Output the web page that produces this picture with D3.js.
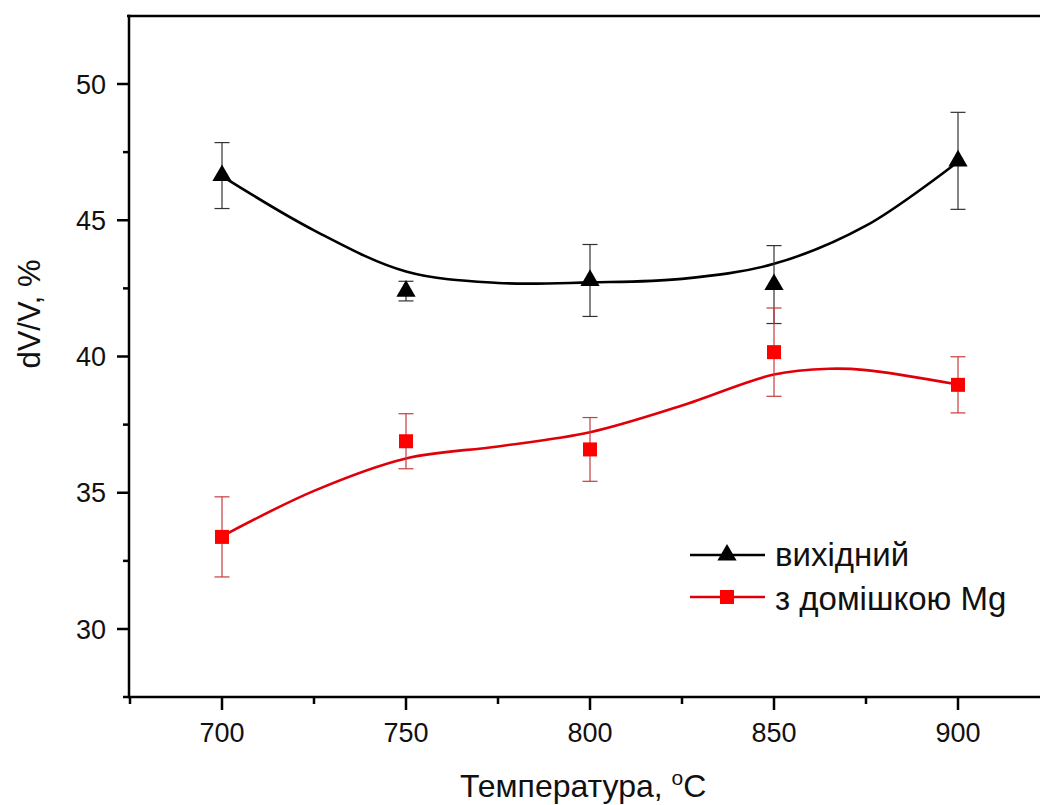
<!DOCTYPE html>
<html><head><meta charset="utf-8">
<script src="https://cdn.jsdelivr.net/npm/d3@7"></script>
<style>body{margin:0;background:#fff}svg{display:block}text{font-family:"Liberation Sans",Arial,sans-serif}</style>
</head><body>
<script>
const temps = [700, 750, 800, 850, 900];
const baseVals = [46.64, 42.40, 42.79, 42.64, 47.18];
const baseErr = [1.21, 0.36, 1.32, 1.43, 1.78];
const mgVals = [33.38, 36.89, 36.59, 40.16, 38.96];
const mgErr = [1.47, 1.01, 1.17, 1.62, 1.03];
// smooth fit curves
const fitX = [700, 725, 750, 775, 800, 825, 850, 875, 900];
const baseFit = [46.62, 44.63, 43.12, 42.70, 42.72, 42.85, 43.40, 44.80, 47.15];
const mgFitX = [700, 725, 750, 775, 800, 825, 850, 865, 875, 900];
const mgFit = [33.40, 35.07, 36.26, 36.70, 37.22, 38.20, 39.34, 39.55, 39.50, 38.97];
const xMajor = [700, 750, 800, 850, 900];
const xMinor = [675, 725, 775, 825, 875];
const yMajor = [30, 35, 40, 45, 50];
const yMinor = [32.5, 37.5, 42.5, 47.5];
const legendLabels = ["вихідний", "з домішкою Mg"];

(function () {
const W = 1040, H = 805;
const svg = d3.select("body").append("svg").attr("width", W).attr("height", H);
const axL = 129, axB = 697, axT = 16;
const x = d3.scaleLinear().domain([700, 900]).range([222, 958]);
const y = d3.scaleLinear().domain([30, 50]).range([629, 84]);

svg.append("line").attr("x1", axL - 2).attr("x2", W).attr("y1", axT).attr("y2", axT)
  .attr("stroke", "#000").attr("stroke-width", 2.5);

const gy = svg.append("g").attr("transform", `translate(${axL},0)`);
gy.append("line").attr("y1", axT - 1.2).attr("y2", axB + 1.2).attr("stroke", "#000").attr("stroke-width", 2.5);
gy.selectAll(".ymaj").data(yMajor).join("line").attr("x1", 0).attr("x2", -12)
  .attr("y1", d => y(d)).attr("y2", d => y(d)).attr("stroke", "#000").attr("stroke-width", 2.5);
gy.selectAll(".ymin").data(yMinor).join("line").attr("x1", 0).attr("x2", -6)
  .attr("y1", d => y(d)).attr("y2", d => y(d)).attr("stroke", "#000").attr("stroke-width", 2.5);
gy.selectAll(".ylab").data(yMajor).join("text").attr("x", -23).attr("y", d => y(d))
  .attr("dy", "0.36em").attr("text-anchor", "end").attr("font-size", 27).attr("fill", "#111").text(d => d);

const gx = svg.append("g").attr("transform", `translate(0,${axB})`);
gx.append("line").attr("x1", axL - 6).attr("x2", W).attr("stroke", "#000").attr("stroke-width", 2.5);
gx.selectAll(".xmaj").data(xMajor).join("line").attr("x1", d => x(d)).attr("x2", d => x(d))
  .attr("y1", 0).attr("y2", 13).attr("stroke", "#000").attr("stroke-width", 2.5);
gx.selectAll(".xmin").data(xMinor).join("line").attr("x1", d => x(d)).attr("x2", d => x(d))
  .attr("y1", 0).attr("y2", 7).attr("stroke", "#000").attr("stroke-width", 2.5);
gx.selectAll(".xlab").data(xMajor).join("text").attr("x", d => x(d)).attr("y", 45)
  .attr("text-anchor", "middle").attr("font-size", 27).attr("fill", "#111").text(d => d);

const xt = svg.append("text").attr("x", 460).attr("y", 797).attr("font-size", 32).attr("fill", "#111");
xt.append("tspan").text("Температура, ");
xt.append("tspan").attr("dy", -12).attr("font-size", 21).text("o");
xt.append("tspan").attr("dy", 12).text("C");
svg.append("text").attr("transform", "translate(40,314) rotate(-90)").attr("text-anchor", "middle")
  .attr("font-size", 31).attr("fill", "#111").text("dV/V, %");

const line = d3.line().curve(d3.curveCatmullRom.alpha(0.5));

svg.append("path").attr("d", line(fitX.map((t, i) => [x(t), y(baseFit[i])])))
  .attr("fill", "none").attr("stroke", "#000").attr("stroke-width", 2.6);
svg.append("path").attr("d", line(mgFitX.map((t, i) => [x(t), y(mgFit[i])])))
  .attr("fill", "none").attr("stroke", "#e0000a").attr("stroke-width", 2.6);

function errBars(vals, errs, color) {
  const g = svg.append("g").attr("stroke", color).attr("stroke-width", 1.2);
  temps.forEach((t, i) => {
    const cx = x(t), y1 = y(vals[i] + errs[i]), y2 = y(vals[i] - errs[i]);
    g.append("line").attr("x1", cx).attr("x2", cx).attr("y1", y1).attr("y2", y2);
    g.append("line").attr("x1", cx - 7.5).attr("x2", cx + 7.5).attr("y1", y1).attr("y2", y1);
    g.append("line").attr("x1", cx - 7.5).attr("x2", cx + 7.5).attr("y1", y2).attr("y2", y2);
  });
}
errBars(baseVals, baseErr, "#333");
errBars(mgVals, mgErr, "#c83c3c");

const tri = d3.symbol().type(d3.symbolTriangle).size(160);
svg.selectAll(".tri").data(temps).join("path").attr("d", tri)
  .attr("transform", (t, i) => `translate(${x(t)},${y(baseVals[i])})`).attr("fill", "#000");
svg.selectAll(".sq").data(temps).join("rect")
  .attr("x", t => x(t) - 7).attr("y", (t, i) => y(mgVals[i]) - 7).attr("width", 14).attr("height", 14)
  .attr("fill", "#ff0000");

const lg = svg.append("g");
lg.append("line").attr("x1", 690).attr("x2", 765).attr("y1", 555).attr("y2", 555).attr("stroke", "#000").attr("stroke-width", 2.6);
lg.append("path").attr("d", tri).attr("transform", "translate(727,555)").attr("fill", "#000");
lg.append("line").attr("x1", 690).attr("x2", 765).attr("y1", 597).attr("y2", 597).attr("stroke", "#e0000a").attr("stroke-width", 2.6);
lg.append("rect").attr("x", 720).attr("y", 590).attr("width", 14).attr("height", 14).attr("fill", "#ff0000");
lg.selectAll("text").data(legendLabels).join("text").attr("x", 775).attr("y", (d, i) => 566 + i * 44)
  .attr("font-size", 33).attr("fill", "#111").text(d => d);
})();
</script>
</body></html>
